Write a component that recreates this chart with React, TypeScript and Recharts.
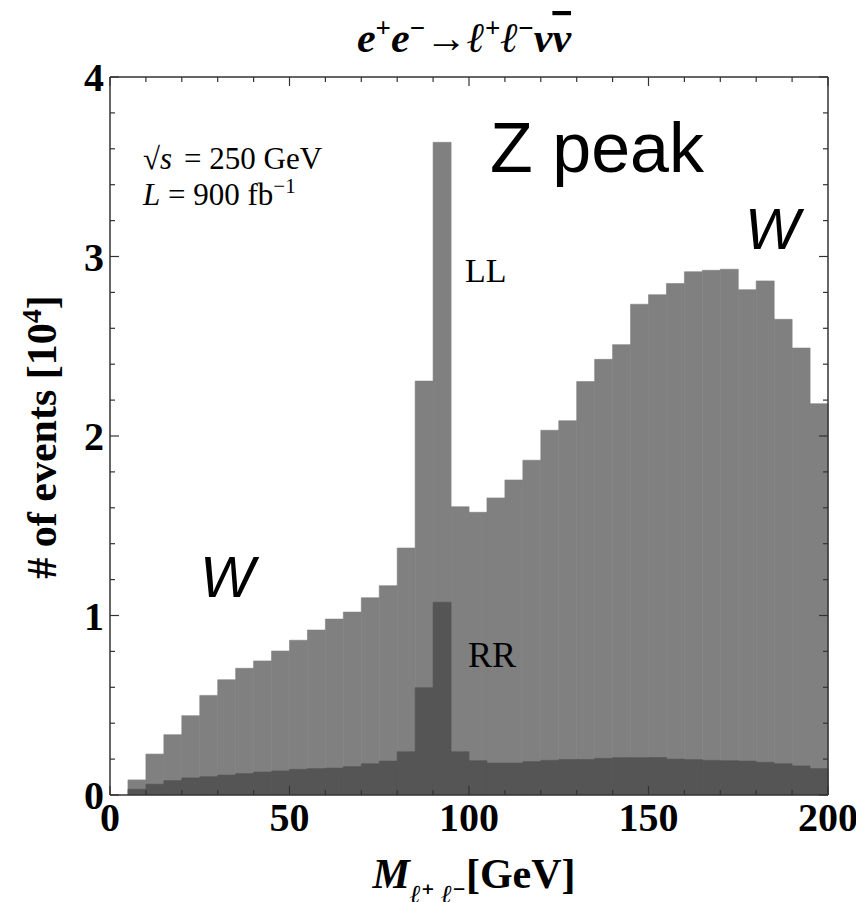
import React from 'react';
import { ComposedChart, Bar, XAxis, YAxis } from 'recharts';

// bin lower edges in GeV (5 GeV bins)
const binStart = [
  0, 5, 10, 15, 20, 25, 30, 35, 40, 45,
  50, 55, 60, 65, 70, 75, 80, 85, 90, 95,
  100, 105, 110, 115, 120, 125, 130, 135, 140, 145,
  150, 155, 160, 165, 170, 175, 180, 185, 190, 195,
];

// events in units of 10^4
const llEvents = [
  0, 0.084, 0.228, 0.336, 0.442, 0.555, 0.642, 0.706, 0.747, 0.802,
  0.862, 0.919, 0.98, 1.019, 1.099, 1.166, 1.376, 2.306, 3.636, 1.606,
  1.575, 1.655, 1.755, 1.865, 2.032, 2.085, 2.303, 2.427, 2.509, 2.734,
  2.787, 2.849, 2.915, 2.923, 2.929, 2.815, 2.864, 2.65, 2.49, 2.18,
];

const rrEvents = [
  0, 0.032, 0.06, 0.08, 0.095, 0.102, 0.111, 0.119, 0.128, 0.134,
  0.143, 0.147, 0.15, 0.158, 0.174, 0.189, 0.241, 0.598, 1.074, 0.241,
  0.191, 0.178, 0.178, 0.186, 0.193, 0.198, 0.198, 0.204, 0.208, 0.208,
  0.209, 0.2, 0.197, 0.193, 0.191, 0.189, 0.182, 0.174, 0.162, 0.147,
];

const xTicks = [0, 10, 20, 30, 40, 50, 60, 70, 80, 90, 100, 110, 120, 130, 140, 150, 160, 170, 180, 190, 200];
const yTicks = [0, 0.2, 0.4, 0.6, 0.8, 1, 1.2, 1.4, 1.6, 1.8, 2, 2.2, 2.4, 2.6, 2.8, 3, 3.2, 3.4, 3.6, 3.8, 4];

const chartData = binStart.map((bin, i) => ({ bin, ll: llEvents[i], rr: rrEvents[i] }));

const W = 856;
const H = 894;
const SERIF = '"Liberation Serif", "DejaVu Serif", serif';
const SANS = '"Liberation Sans", Arial, sans-serif';
const FRAME = '#333';
const LL_COLOR = '#808080';
const RR_COLOR = '#555555';

const isMajorX = (v: number) => v % 50 === 0;
const isMajorY = (v: number) => Math.abs(v - Math.round(v)) < 1e-6;

const BottomTick = (props: any) => {
  const { x, y, payload } = props;
  const major = isMajorX(payload.value);
  return (
    <g>
      <line x1={x} x2={x} y1={y} y2={y - (major ? 9 : 5)} stroke={FRAME} strokeWidth={1.2} />
      {major && (
        <text x={x} y={y + 36} textAnchor="middle" fontFamily={SERIF} fontWeight="bold" fontSize={40} fill="#000">
          {payload.value}
        </text>
      )}
    </g>
  );
};

const TopTick = (props: any) => {
  const { x, y, payload } = props;
  const major = isMajorX(payload.value);
  return <line x1={x} x2={x} y1={y} y2={y + (major ? 9 : 5)} stroke={FRAME} strokeWidth={1.2} />;
};

const LeftTick = (props: any) => {
  const { x, y, payload } = props;
  const major = isMajorY(payload.value);
  return (
    <g>
      <line x1={x} x2={x + (major ? 9 : 5)} y1={y} y2={y} stroke={FRAME} strokeWidth={1.2} />
      {major && (
        <text x={x - 6} y={y} dy="0.35em" textAnchor="end" fontFamily={SERIF} fontWeight="bold" fontSize={40} fill="#000">
          {Math.round(payload.value)}
        </text>
      )}
    </g>
  );
};

const RightTick = (props: any) => {
  const { x, y, payload } = props;
  const major = isMajorY(payload.value);
  return <line x1={x} x2={x - (major ? 9 : 5)} y1={y} y2={y} stroke={FRAME} strokeWidth={1.2} />;
};

export default function App() {
  return (
    <div style={{ position: 'relative', width: W, height: H }}>
      <ComposedChart
        width={W}
        height={H}
        data={chartData}
        margin={{ top: 68, right: 35, bottom: 106, left: 101 }}
        barCategoryGap={0}
        barGap={0}
      >
        <XAxis xAxisId="ll" dataKey="bin" hide />
        <XAxis xAxisId="rr" dataKey="bin" hide />
        <XAxis
          xAxisId="bottom"
          dataKey="bin"
          type="number"
          domain={[0, 200]}
          allowDataOverflow
          ticks={xTicks}
          height={1}
          tickSize={0}
          tickMargin={0}
          tickLine={false}
          tick={<BottomTick />}
          interval={0}
          axisLine={{ stroke: FRAME, strokeWidth: 1.5 }}
        />
        <XAxis
          xAxisId="top"
          dataKey="bin"
          orientation="top"
          type="number"
          domain={[0, 200]}
          allowDataOverflow
          ticks={xTicks}
          height={1}
          tickSize={0}
          tickMargin={0}
          tickLine={false}
          tick={<TopTick />}
          interval={0}
          axisLine={{ stroke: FRAME, strokeWidth: 1.5 }}
        />
        <YAxis
          yAxisId="left"
          type="number"
          domain={[0, 4]}
          allowDataOverflow
          ticks={yTicks}
          width={1}
          tickSize={0}
          tickMargin={0}
          tickLine={false}
          tick={<LeftTick />}
          interval={0}
          axisLine={{ stroke: FRAME, strokeWidth: 1.5 }}
        />
        <YAxis
          yAxisId="right"
          orientation="right"
          type="number"
          domain={[0, 4]}
          allowDataOverflow
          ticks={yTicks}
          width={1}
          tickSize={0}
          tickMargin={0}
          tickLine={false}
          tick={<RightTick />}
          interval={0}
          axisLine={{ stroke: FRAME, strokeWidth: 1.5 }}
        />
        <Bar dataKey="ll" name="LL" xAxisId="ll" yAxisId="left" fill={LL_COLOR} stroke={LL_COLOR} strokeWidth={0.6} isAnimationActive={false} />
        <Bar dataKey="rr" name="RR" xAxisId="rr" yAxisId="left" fill={RR_COLOR} stroke={RR_COLOR} strokeWidth={0.6} isAnimationActive={false} />
      </ComposedChart>

      {/* titles and annotations */}
      <svg width={W} height={H} style={{ position: 'absolute', left: 0, top: 0, pointerEvents: 'none' }}>
        <text x={456} y={44} textAnchor="middle" fontFamily={SERIF} fontWeight="bold" fontStyle="italic" fontSize={42}>
          e<tspan baselineShift="super" fontSize={27} fontStyle="normal">+</tspan>
          e<tspan baselineShift="super" fontSize={27} fontStyle="normal">−</tspan>
          <tspan fontStyle="normal">→</tspan>ℓ<tspan baselineShift="super" fontSize={27} fontStyle="normal">+</tspan>
          ℓ<tspan baselineShift="super" fontSize={27} fontStyle="normal">−</tspan>ν
          <tspan textDecoration="overline">ν</tspan>
        </text>

        <text
          transform="translate(48,429) rotate(-90)"
          textAnchor="middle"
          fontFamily={SERIF}
          fontWeight="bold"
          fontSize={42}
        >
          # of events [10<tspan baselineShift="super" fontSize={28}>4</tspan>]
        </text>

        <text x={466} y={880} textAnchor="middle" fontFamily={SERIF} fontWeight="bold" fontSize={42}>
          <tspan fontStyle="italic">M</tspan>
          <tspan baselineShift="sub" fontSize={26} fontStyle="italic">ℓ⁺ ℓ⁻</tspan>[GeV]
        </text>

        <text x={135} y={161} fontFamily={SERIF} fontSize={31}>
          √<tspan fontStyle="italic">s</tspan>
          <tspan dx={12}>= 250 GeV</tspan>
        </text>
        <text x={135} y={197} fontFamily={SERIF} fontSize={31}>
          <tspan fontStyle="italic">L</tspan> = 900 fb<tspan baselineShift="super" fontSize={21}>−1</tspan>
        </text>

        <text x={482} y={164} fontFamily={SANS} fontSize={70}>Z peak</text>
        <text x={737} y={241} fontFamily={SANS} fontStyle="italic" fontSize={58}>W</text>
        <text x={192} y={589} fontFamily={SANS} fontStyle="italic" fontSize={58}>W</text>

        <text x={457} y={274} fontFamily={SERIF} fontSize={34}>LL</text>
        <text x={460} y={659} fontFamily={SERIF} fontSize={36}>RR</text>
      </svg>
    </div>
  );
}
